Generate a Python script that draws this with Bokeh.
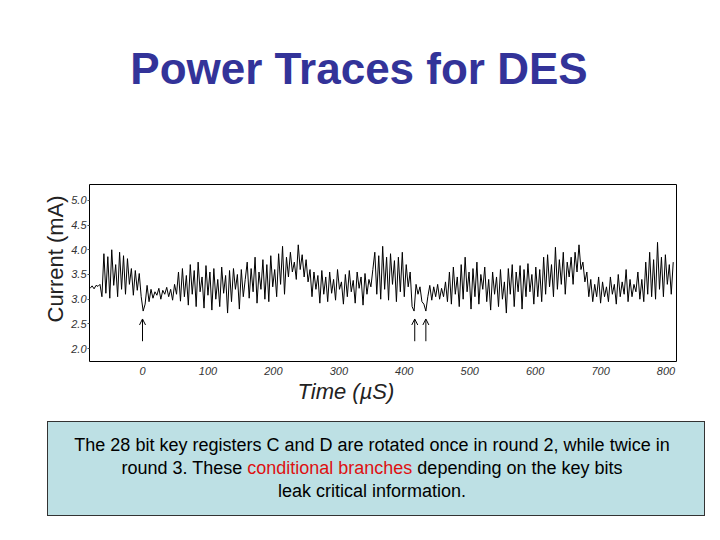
from bokeh.plotting import figure
from bokeh.models import (Arrow, OpenHead, FixedTicker, ColumnDataSource, Range1d,
                          Title, Div)
from bokeh.layouts import column
from bokeh.embed import file_html
from bokeh.resources import INLINE

# ---------------- data ----------------
title_text = "Power Traces for DES"
x_label = "Time (µS)"
y_label = "Current (mA)"

t_start = -80      # µs, first sample
t_step = 3         # µs between samples
current_ma = [
    3.22, 3.27, 3.21, 3.28, 3.26, 3.30, 3.05, 3.92, 3.12, 3.86,
    3.02, 4.00, 3.28, 3.70, 3.05, 3.95, 3.20, 3.88, 3.10, 3.82,
    3.30, 3.62, 3.08, 3.58, 3.18, 3.52, 3.05, 2.76, 2.90, 3.28,
    2.95, 3.20, 3.02, 3.15, 3.08, 3.22, 3.00, 3.18, 3.10, 3.24,
    3.05, 3.20, 2.98, 3.30, 3.10, 3.55, 2.96, 3.62, 3.05, 3.48,
    2.88, 3.70, 3.10, 3.58, 2.85, 3.75, 3.15, 3.45, 2.82, 3.68,
    3.08, 3.55, 2.78, 3.62, 3.00, 3.40, 2.85, 3.65, 3.12, 3.48,
    2.72, 3.58, 2.95, 3.62, 3.20, 3.50, 2.80, 3.60, 3.05, 3.40,
    3.75, 3.02, 3.62, 3.15, 3.85, 2.92, 3.55, 3.20, 3.80, 3.00,
    3.70, 2.95, 3.88, 3.25, 3.60, 3.05, 3.92, 3.30, 4.07, 3.10,
    3.85, 3.45, 3.95, 3.55, 3.75, 3.40, 4.10, 3.60, 3.90, 3.45,
    3.80, 3.35, 3.60, 3.05, 3.55, 3.20, 3.48, 2.92, 3.58, 3.10,
    3.45, 2.95, 3.55, 3.12, 3.40, 2.98, 3.60, 3.20, 3.35, 2.90,
    3.50, 3.05, 3.58, 3.15, 3.38, 2.92, 3.55, 3.22, 3.45, 2.88,
    3.52, 3.10, 3.40, 3.25, 3.60, 3.95, 3.10, 3.88, 3.00, 4.07,
    3.20, 3.85, 2.98, 3.92, 3.30, 3.78, 2.95, 3.85, 3.15, 3.95,
    3.05, 3.70, 3.25, 3.55, 2.85, 2.76, 3.30, 3.10, 3.25, 2.95,
    2.90, 2.76, 3.05, 3.28, 2.98, 3.25, 3.05, 3.30, 3.00, 3.22,
    3.05, 3.35, 2.95, 3.55, 2.90, 3.65, 3.10, 3.45, 2.85, 3.70,
    3.00, 3.85, 3.15, 3.55, 2.80, 3.62, 3.05, 3.75, 2.90, 3.50,
    3.20, 3.65, 2.95, 3.40, 2.78, 3.55, 3.10, 3.45, 2.85, 3.60,
    3.00, 3.35, 2.72, 3.62, 3.10, 3.70, 2.85, 3.55, 3.15, 3.68,
    2.80, 3.60, 3.05, 3.72, 3.15, 3.50, 2.90, 3.65, 3.05, 3.60,
    2.95, 3.85, 3.10, 3.90, 3.25, 3.70, 3.05, 4.05, 3.20, 3.80,
    3.30, 3.95, 3.10, 3.75, 3.45, 3.85, 3.30, 3.95, 3.55, 4.10,
    3.60, 3.75, 3.35, 3.55, 3.05, 3.40, 2.95, 3.30, 3.05, 3.45,
    2.92, 3.35, 3.05, 3.25, 2.95, 3.45, 3.10, 3.30, 2.90, 3.50,
    3.05, 3.35, 3.10, 3.60, 2.95, 3.40, 3.05, 3.30, 3.15, 3.55,
    3.00, 3.40, 2.95, 3.75, 3.10, 3.95, 3.05, 3.80, 3.00, 4.15,
    3.20, 3.85, 3.05, 3.90, 3.30, 3.70, 3.10, 3.75,
]
arrow_times = [0, 416, 433]
arrow_low = 2.15
arrow_high = 2.60

x_ticks = [0, 100, 200, 300, 400, 500, 600, 700, 800]
y_ticks = [2.0, 2.5, 3.0, 3.5, 4.0, 4.5, 5.0]
y_tick_labels = ["2.0", "2.5", "3.0", "3.5", "4.0", "4.5", "5.0"]

caption_line1 = "The 28 bit key registers C and D are rotated once in round 2, while twice in"
caption_line2a = "round 3. These"
caption_line2b = "conditional branches"
caption_line2c = "depending on the key bits"
caption_line3 = "leak critical information."

# ---------------- layout (pixels) ----------------
W = 720
TITLE_H = 120                 # title strip height
FL, FR, FT, FB = 89, 676, 184, 361   # frame edges on the page
CAP_TOP, CAP_BOTTOM = 421, 516
CAP_LEFT, CAP_RIGHT = 47, 705
FONT = "Liberation Sans"

title_div = Div(
    text=(f'<div style="width:{W}px;box-sizing:border-box;padding:44px 2px 0 0;'
          f'text-align:center;font-family:\'{FONT}\';font-weight:bold;'
          f'font-size:44px;line-height:50px;color:#333399;white-space:nowrap;">'
          f'{title_text}</div>'),
    width=W, height=TITLE_H, margin=0)

times = [t_start + i * t_step for i in range(len(current_ma))]
src = ColumnDataSource(dict(t=times, i=current_ma))

p = figure(width=W, height=CAP_TOP - TITLE_H, output_backend="svg",
           toolbar_location=None,
           x_range=Range1d(-81, 816), y_range=Range1d(1.74, 5.32),
           min_border_left=FL, min_border_right=W - FR,
           min_border_top=FT - TITLE_H, min_border_bottom=CAP_TOP - FB,
           margin=0)
p.background_fill_color = "white"
p.border_fill_color = "white"
p.outline_line_color = "black"
p.outline_line_width = 1
p.xgrid.grid_line_color = None
p.ygrid.grid_line_color = None

p.line("t", "i", source=src, line_color="black", line_width=1)

for t in arrow_times:
    p.add_layout(Arrow(end=OpenHead(size=6, line_width=1, line_color="black"),
                       x_start=t, y_start=arrow_low, x_end=t, y_end=arrow_high,
                       line_color="black", line_width=1))

p.xaxis.ticker = FixedTicker(ticks=x_ticks)
p.yaxis.ticker = FixedTicker(ticks=y_ticks)
p.yaxis.major_label_overrides = {v: s for v, s in zip(y_ticks, y_tick_labels)}
for ax in (p.xaxis[0], p.yaxis[0]):
    ax.axis_line_color = None
    ax.minor_tick_line_color = None
    ax.major_tick_in = 0
    ax.major_label_text_font = FONT
    ax.major_label_text_font_style = "italic"
    ax.major_label_text_font_size = "11px"
    ax.major_label_text_color = "#333333"
p.xaxis.major_tick_out = 0
p.xaxis.major_label_standoff = 5
p.yaxis.major_tick_out = 2
p.yaxis.major_tick_line_color = "#555555"
p.yaxis.major_label_standoff = 1

# axis titles as side-panel titles, placed from the start of their axes
p.add_layout(Title(text=y_label, align="left", offset=39, standoff=2,
                   text_font=FONT, text_font_style="normal",
                   text_font_size="22px", text_color="#222222"), "left")
p.add_layout(Title(text=x_label, align="left", offset=208, standoff=-2,
                   text_font=FONT, text_font_style="italic",
                   text_font_size="22px", text_color="#222222"), "below")

caption_html = (
    f'<div style="box-sizing:border-box;width:{CAP_RIGHT - CAP_LEFT}px;'
    f'height:{CAP_BOTTOM - CAP_TOP}px;background:#bde0e4;border:1px solid #333333;'
    f'padding:12px 8px 0 0;text-align:center;font-family:\'{FONT}\';'
    f'font-size:18px;line-height:23px;color:black;white-space:nowrap;">'
    f'{caption_line1}<br>{caption_line2a} '
    f'<span style="color:#dd1111;">{caption_line2b}</span> {caption_line2c}<br>'
    f'{caption_line3}</div>')
caption_div = Div(text=caption_html, width=CAP_RIGHT - CAP_LEFT,
                  height=CAP_BOTTOM - CAP_TOP, margin=(0, 0, 0, CAP_LEFT))

layout = column(title_div, p, caption_div, spacing=0, margin=0)

open("out.html", "w").write(file_html(layout, INLINE))
